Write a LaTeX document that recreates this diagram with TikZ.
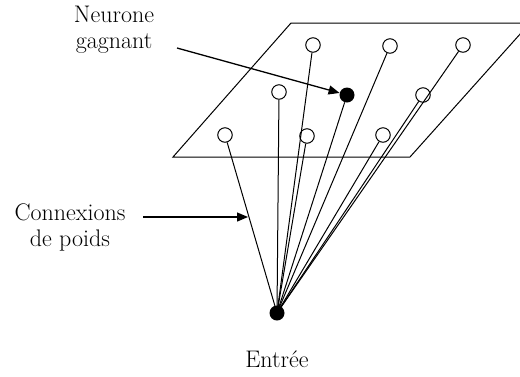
\documentclass[tikz,border=0pt]{standalone}
\usepackage{fontspec}
\setmainfont{Latin Modern Roman}
\usetikzlibrary{arrows.meta}
\begin{document}
\begin{tikzpicture}[x=1pt,y=-1pt,
  neuron/.style={circle,draw,line width=1pt,minimum size=14.5pt,inner sep=0pt,fill=white},
  winner/.style={circle,fill=black,minimum size=15pt,inner sep=0pt},
  conn/.style={line width=1pt},
  lbl/.style={font=\fontsize{24}{26}\selectfont,align=center,inner sep=0pt},
  pointer/.style={line width=1.3pt,-{Triangle[length=11pt,width=9pt]}}]
\useasboundingbox (0,0) rectangle (520,376);
\begin{scope}
\clip (0,0) rectangle (520,376);
\draw[line width=1pt] (291,23) -- (530,23) -- (410,157) -- (173,157) -- cycle;
\end{scope}
\node[winner] (in) at (277,313) {};
\node[neuron] (n1) at (313,45) {};
\node[neuron] (n2) at (390,46) {};
\node[neuron] (n3) at (463,45) {};
\node[neuron] (n4) at (279,92) {};
\node[neuron] (n5) at (423,95) {};
\node[neuron] (n6) at (225,135) {};
\node[neuron] (n7) at (307,136) {};
\node[neuron] (n8) at (383,135) {};
\node[winner] (w) at (347,95) {};
\foreach \n in {n1,n2,n3,n4,n5,n6,n7,n8,w}
  \draw[conn] (in.center) -- (\n);
\node[lbl,anchor=north] (t1) at (114,6) {Neurone\\gagnant};
\node[lbl,anchor=north] (t2) at (70,204) {Connexions\\de poids};
\node[lbl,anchor=north] (t3) at (277,351) {Entrée};
\coordinate (a1) at (177,48);
\coordinate (a2) at (143,217);
\coordinate (b2) at (248,217);
\draw[pointer] (a1) -- (w);
\draw[pointer] (a2) -- (b2);
\end{tikzpicture}
\end{document}
